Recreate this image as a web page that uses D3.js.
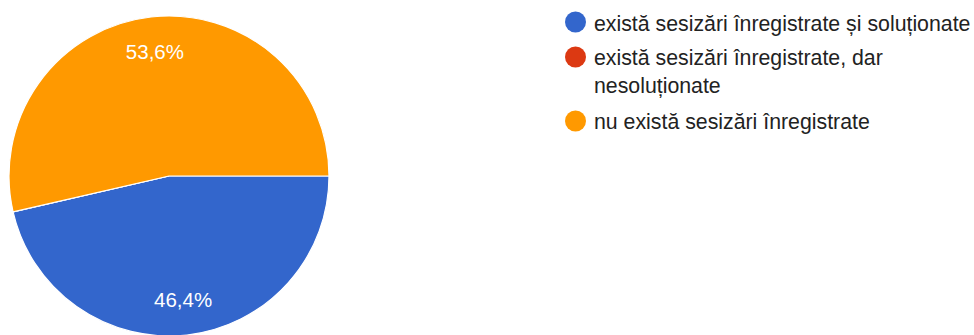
<!DOCTYPE html>
<html><head><meta charset="utf-8">
<script src="https://cdn.jsdelivr.net/npm/d3@7"></script>
<style>body{margin:0;background:#fff;}svg{display:block;}</style>
</head><body>
<svg id="c" width="974" height="335"></svg>
<script>
const categories = ["există sesizări înregistrate și soluționate", "există sesizări înregistrate, dar nesoluționate", "nu există sesizări înregistrate"];
const legendLines = [["există sesizări înregistrate și soluționate"], ["există sesizări înregistrate, dar", "nesoluționate"], ["nu există sesizări înregistrate"]];
const values = [46.4, 0, 53.6];
const labels = ["46,4%", "", "53,6%"];
const colors = ["#3366cc", "#dc3912", "#ff9900"];

const svg = d3.select("#c");
const cx = 169, cy = 176, R = 160;
const pie = d3.pie().sort(null).value(d => d).startAngle(Math.PI/2).endAngle(Math.PI/2 + 2*Math.PI);
const arcs = pie(values);
const arc = d3.arc().innerRadius(0).outerRadius(R);
const labelArc = d3.arc().innerRadius(125).outerRadius(125);
const g = svg.append("g").attr("transform", `translate(${cx},${cy})`);
g.selectAll("path").data(arcs).join("path")
  .attr("d", arc).attr("fill", (d,i) => colors[i])
  .attr("stroke", "#fff").attr("stroke-width", 1.2);
g.selectAll("text").data(arcs).join("text")
  .attr("transform", d => `translate(${labelArc.centroid(d)})`)
  .attr("text-anchor", "middle").attr("dy", "0.35em")
  .attr("fill", "#fff").attr("font-family", "Arial, 'Liberation Sans', sans-serif").attr("font-size", 20.5)
  .text((d,i) => labels[i]);

const lg = svg.append("g").attr("font-family", "Arial, 'Liberation Sans', sans-serif").attr("font-size", 21.3).attr("fill", "#222");
const circleY = [22, 57, 121];
const baseY = [31, 65, 129];
categories.forEach((c, i) => {
  lg.append("circle").attr("cx", 575.5).attr("cy", circleY[i]).attr("r", 10.5).attr("fill", colors[i]);
  legendLines[i].forEach((ln, j) => {
    lg.append("text").attr("x", 594).attr("y", baseY[i] + j*28).text(ln);
  });
});
</script>
</body></html>
